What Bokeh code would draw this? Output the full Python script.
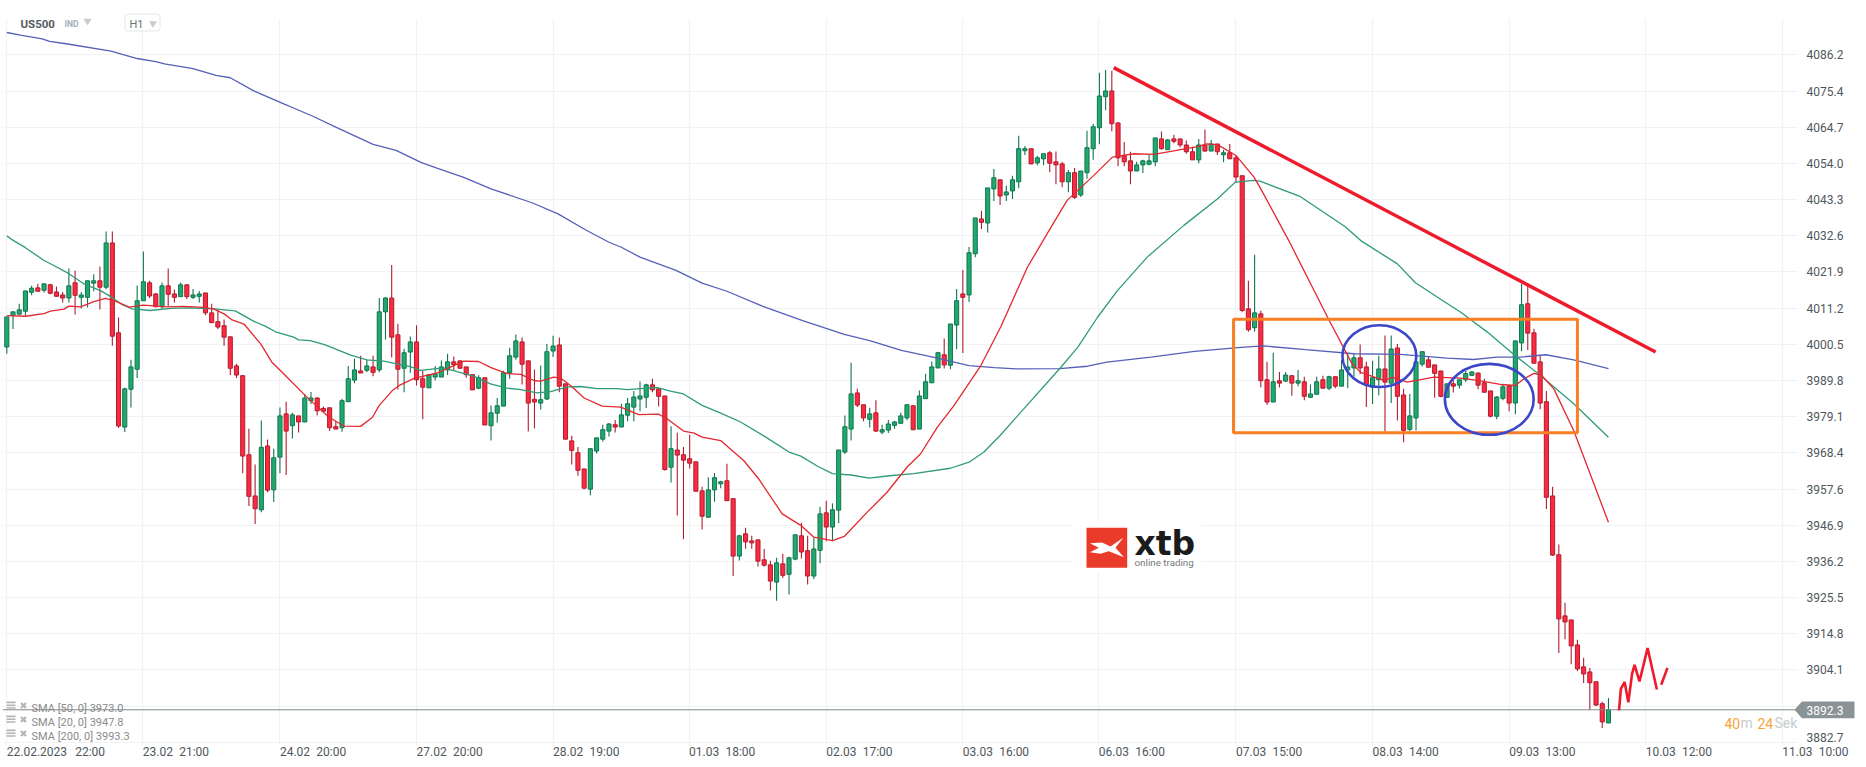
from bokeh.plotting import figure
from bokeh.models import (ColumnDataSource, Range1d, FixedTicker, Label,
                          PolyAnnotation, BoxAnnotation, NumeralTickFormatter)
from bokeh.embed import file_html
from bokeh.resources import INLINE

opens = [3999.7,4009.1,4009.4,4010.3,4015.9,4017.2,4016.5,4018.1,4016.0,4015.1,
4014.2,4018.7,4014.4,4014.4,4018.6,4019.3,4017.4,4030.5,4003.9,3976.0,
3987.2,3993.1,4013.4,4018.7,4015.4,4011.6,4017.8,4015.4,4014.6,4018.1,
4014.4,4014.7,4015.7,4009.8,4007.2,4006.0,4002.7,3994.1,3991.2,3967.8,
3955.6,3951.5,3970.4,3957.4,3967.1,3979.9,3976.4,3979.3,3977.5,3983.8,
3984.6,3981.5,3981.7,3976.1,3975.8,3983.5,3989.9,3992.6,3992.8,3993.8,
3992.9,4010.1,4014.2,4003.3,3993.4,3998.2,4001.2,3990.3,3987.6,3990.8,
3990.8,3992.9,3995.3,3995.6,3993.8,3991.5,3987.5,3990.6,3976.4,3980.1,
3982.2,3992.0,3996.7,4001.2,3995.6,3984.2,3983.1,3984.3,3998.5,4000.3,
3988.8,3971.9,3968.4,3963.6,3957.6,3968.9,3972.4,3974.8,3976.7,3976.0,
3979.5,3981.9,3984.3,3984.8,3988.5,3987.3,3985.2,3964.1,3969.2,3967.8,
3966.6,3965.7,3957.1,3949.3,3957.4,3959.2,3960.1,3954.8,3937.8,3944.4,
3942.3,3942.6,3936.7,3935.2,3930.1,3935.5,3932.4,3936.9,3943.8,3939.4,
3931.9,3939.5,3950.6,3946.4,3951.4,3968.6,3975.4,3986.1,3982.6,3978.3,
3980.2,3974.5,3975.1,3976.5,3977.1,3978.7,3982.3,3975.4,3984.4,3989.1,
3993.5,3997.4,3994.3,4006.2,4015.4,4015.1,4027.3,4037.6,4036.4,4046.5,
4049.2,4044.7,4045.9,4048.6,4057.8,4058.4,4054.2,4055.4,4057.2,4054.5,
4053.9,4048.6,4051.3,4044.7,4051.3,4058.4,4064.6,4073.8,4075.5,4066.0,
4056.3,4054.8,4051.8,4053.6,4053.8,4054.5,4061.3,4058.1,4061.3,4061.3,
4059.5,4057.5,4055.1,4059.5,4057.7,4059.8,4056.6,4057.2,4055.7,4050.4,
4011.0,4005.4,4009.5,3990.0,3983.4,3989.7,3989.6,3991.2,3989.0,3989.4,
3984.8,3985.7,3990.0,3987.5,3990.9,3988.1,3992.9,3993.5,3996.5,3993.8,
3987.8,3990.0,3993.2,3989.0,3999.4,3985.5,3975.3,3978.7,3994.6,3995.9,
3994.4,3992.6,3984.8,3988.8,3988.4,3990.0,3991.3,3992.0,3989.1,3986.7,
3979.2,3984.5,3988.2,3983.1,4000.9,4012.5,4003.9,3995.3,3983.5,3955.6,
3938.2,3920.1,3918.9,3911.5,3905.0,3903.5,3900.6,3894.1,3888.4]

highs = [4008.6,4010.1,4012.5,4016.3,4017.8,4018.4,4018.4,4018.4,4017.6,4016.0,
4022.9,4022.3,4016.0,4019.3,4021.2,4023.5,4033.9,4033.9,4008.4,3987.6,
3995.9,4017.9,4028.0,4019.3,4015.7,4018.8,4022.9,4016.7,4018.8,4018.1,
4016.9,4016.3,4015.7,4012.5,4010.7,4007.8,4002.7,3994.7,3991.4,3975.5,
3964.9,3977.9,3972.3,3969.6,3981.8,3983.5,3980.2,3979.3,3985.8,3986.4,
3984.8,3982.1,3981.7,3977.8,3984.4,3994.1,3996.2,3997.1,3995.9,3997.1,
4014.2,4014.5,4024.0,4006.6,3999.2,4002.8,4006.1,3992.7,3991.5,3994.1,
3995.7,3997.7,3996.9,3995.6,3993.8,3991.5,3991.3,3990.6,3982.4,3984.6,
3992.7,3999.5,4003.4,4002.5,3995.6,3993.0,3994.2,4000.6,4003.0,4002.5,
3988.8,3973.4,3970.1,3963.6,3969.6,3972.8,3976.7,3977.2,3978.1,3982.9,
3984.6,3986.7,3989.5,3988.8,3990.3,3987.3,3985.2,3976.2,3974.3,3970.1,
3973.7,3965.7,3958.3,3961.1,3962.4,3960.1,3965.1,3954.8,3944.1,3946.2,
3943.8,3942.6,3939.9,3936.4,3937.3,3938.5,3937.6,3944.1,3947.7,3943.8,
3943.2,3952.4,3954.2,3953.4,3969.2,3979.4,3995.0,3987.3,3982.6,3981.7,
3983.9,3976.7,3978.1,3977.8,3980.2,3982.6,3982.3,3986.8,3991.8,3995.4,
3998.3,4002.2,4006.5,4016.9,4022.5,4029.3,4037.9,4040.0,4046.8,4052.4,
4049.2,4047.4,4050.4,4062.2,4059.2,4058.4,4056.3,4056.9,4057.7,4057.6,
4054.5,4052.1,4052.7,4051.8,4063.7,4065.8,4080.9,4081.7,4081.5,4066.3,
4060.4,4057.5,4054.5,4055.1,4056.6,4061.6,4063.5,4061.3,4062.5,4061.3,
4060.8,4059.0,4061.3,4064.1,4061.0,4059.8,4058.1,4059.8,4056.3,4050.4,
4019.3,4027.0,4010.4,3995.3,3998.0,3992.3,3992.3,3991.2,3992.9,3990.9,
3988.6,3990.9,3991.2,3991.2,3990.9,3995.9,3997.7,3997.7,4000.4,3995.3,
3995.6,3997.1,4003.1,4003.1,4000.6,3987.3,3985.8,3997.0,3998.3,3996.8,
3994.4,3992.6,3988.8,3990.0,3990.0,3992.6,3992.6,3992.0,3990.3,3986.7,
3985.2,3988.8,3988.2,4001.6,4018.4,4018.4,4005.1,3997.4,3986.7,3958.3,
3941.2,3924.0,3918.9,3913.0,3907.7,3904.7,3900.6,3894.7,3895.8]

lows = [3997.7,4005.0,4009.4,4009.0,4015.0,4016.2,4015.8,4015.3,4014.7,4012.9,
4012.9,4009.3,4011.1,4011.4,4016.2,4010.8,4016.8,4000.1,3975.7,3974.5,
3981.8,3990.5,4013.4,4014.2,4011.6,4011.0,4011.8,4012.9,4014.6,4013.9,
4013.9,4012.9,4009.1,4006.9,4005.0,4000.1,3991.3,3990.5,3962.3,3952.6,
3947.3,3950.8,3956.7,3953.8,3962.3,3961.8,3972.6,3974.4,3977.5,3982.8,
3979.4,3980.5,3974.8,3975.4,3974.6,3983.4,3989.0,3992.0,3992.2,3991.0,
3992.2,4001.9,3996.6,3987.1,3986.3,3992.1,3988.3,3978.3,3987.6,3989.8,
3990.8,3991.4,3992.7,3993.4,3990.6,3987.0,3987.2,3976.6,3972.0,3977.3,
3982.2,3990.3,3995.9,3988.6,3974.7,3975.6,3981.2,3984.0,3996.7,3986.3,
3972.4,3964.9,3961.6,3957.6,3955.8,3968.2,3971.7,3973.2,3974.4,3976.0,
3977.7,3977.7,3980.7,3981.6,3986.3,3982.1,3963.1,3959.6,3949.8,3942.8,
3963.7,3957.0,3945.7,3949.1,3953.9,3957.9,3954.2,3931.9,3936.5,3940.0,
3940.0,3934.7,3934.7,3927.6,3924.6,3931.3,3926.4,3936.6,3937.1,3929.4,
3931.0,3935.7,3942.2,3942.2,3947.5,3968.0,3972.0,3981.9,3977.7,3975.9,
3974.5,3973.9,3974.2,3975.5,3977.1,3978.0,3975.2,3975.4,3984.4,3989.1,
3993.5,3993.3,3993.1,3999.0,3997.9,4013.0,4026.3,4034.6,4033.6,4042.9,
4041.7,4042.9,4043.5,4046.7,4056.5,4053.9,4053.5,4053.5,4051.4,4047.9,
4047.0,4045.5,4043.5,4044.1,4049.5,4055.1,4059.7,4069.8,4063.6,4053.2,
4053.2,4047.9,4051.8,4051.2,4053.5,4053.2,4058.1,4058.1,4060.0,4058.8,
4056.9,4055.1,4054.1,4057.5,4057.7,4056.5,4054.4,4055.4,4048.3,4010.0,
4004.2,4004.2,3987.8,3982.5,3983.4,3987.7,3989.3,3985.3,3988.1,3983.9,
3984.8,3985.7,3987.5,3986.9,3987.5,3988.1,3987.5,3990.9,3991.7,3981.9,
3982.8,3985.4,3974.7,3983.1,3977.9,3971.5,3974.7,3975.0,3993.9,3993.7,
3984.7,3984.8,3984.8,3986.2,3987.4,3989.3,3991.3,3987.2,3986.3,3978.9,
3978.3,3983.9,3980.7,3979.8,3998.5,3998.8,3994.9,3981.3,3951.7,3937.8,
3909.1,3913.2,3905.8,3903.7,3900.2,3892.3,3893.4,3886.9,3888.4]

closes = [4008.6,4010.1,4010.7,4016.3,4017.1,4016.2,4018.4,4015.6,4014.7,4014.2,
4017.8,4015.0,4015.1,4019.3,4019.3,4017.4,4030.5,4002.9,3976.3,3987.3,
3993.8,4013.4,4019.0,4014.8,4011.6,4017.8,4015.3,4014.4,4018.1,4014.6,
4015.1,4015.4,4009.8,4006.9,4005.6,4002.6,3993.4,3991.4,3967.4,3955.5,
3951.8,3970.0,3957.3,3966.9,3979.3,3974.8,3979.6,3977.5,3984.6,3984.6,
3980.8,3980.7,3975.8,3975.4,3983.8,3990.3,3992.9,3992.0,3994.1,3992.2,
4010.1,4014.2,4002.6,3993.1,3998.0,4001.2,3990.0,3987.8,3991.5,3991.8,
3993.8,3995.3,3994.5,3993.4,3991.5,3987.0,3990.6,3976.6,3980.2,3982.3,
3992.1,3997.1,4001.5,3994.6,3983.1,3983.4,3984.1,3998.3,4000.0,3988.1,
3972.4,3969.1,3963.2,3957.9,3969.6,3972.8,3975.2,3976.9,3976.0,3979.6,
3982.9,3984.9,3985.2,3988.5,3987.0,3985.1,3963.4,3969.6,3967.7,3966.2,
3965.3,3957.0,3949.6,3957.4,3961.0,3959.8,3954.2,3937.8,3943.8,3942.0,
3941.7,3936.3,3935.1,3930.4,3935.8,3932.1,3937.3,3944.1,3939.0,3931.9,
3939.9,3950.3,3946.4,3951.5,3969.2,3976.1,3985.8,3982.5,3978.7,3979.9,
3974.8,3975.2,3976.9,3977.5,3979.3,3982.6,3975.2,3985.2,3989.4,3993.8,
3998.0,3994.4,4006.5,4013.4,4014.4,4027.6,4037.9,4036.6,4046.8,4049.8,
4044.4,4045.6,4049.2,4058.4,4058.4,4053.9,4055.7,4056.9,4054.1,4053.6,
4048.6,4051.3,4044.0,4051.8,4058.7,4064.9,4074.0,4075.5,4065.8,4055.7,
4054.5,4051.8,4053.6,4054.8,4054.8,4061.6,4058.4,4061.0,4060.6,4059.5,
4057.5,4055.1,4059.5,4057.7,4059.8,4057.5,4057.2,4055.4,4050.0,4010.5,
4004.8,4009.8,3989.7,3983.4,3989.4,3989.0,3991.4,3989.0,3989.7,3985.1,
3985.8,3989.4,3987.5,3990.9,3988.1,3992.9,3993.8,3996.5,3993.5,3988.5,
3990.6,3993.2,3989.3,3999.1,3985.1,3975.0,3979.3,3995.3,3998.3,3993.7,
3991.9,3985.1,3988.8,3988.1,3990.0,3991.8,3992.3,3988.4,3986.3,3979.2,
3984.9,3987.9,3983.1,4001.5,4012.2,4003.8,3994.9,3983.1,3955.2,3938.1,
3919.2,3918.3,3911.2,3904.4,3902.9,3900.3,3893.7,3888.7,3892.3]

sma200_bar = [0,2.2,5.7,6.9,9.8,16.8,21,24,25.4,30,33.7,36,39.7,44.8,46,49.3,53,59,62.7,66.8,69.4,73.5,78,84.6,88.8,93.2,97,
              98.9,102,107.8,112,116,121.8,128.2,134.9,139,144.1,149.2,155,159.1,162.6,169.6,174.1,177.2,184.3,191.3,
              198.8,202.5,209.2,217,224.5,232,236.3,240,243.8,247.9,252.4,258]
sma200_val = [4092.8,4092.0,4090.9,4090.2,4089.4,4087.3,4085.1,4084.2,4083.5,4082.1,4080.1,4079.4,4075.6,4071.5,4070.6,4068.0,4064.8,4059.7,4057.9,4054.3,4052.6,4050.0,4046.5,4042.4,4039.1,4034.4,4030.7,
              4029.3,4026.3,4022.4,4018.6,4016.2,4011.7,4007.5,4003.4,4001.6,3998.7,3996.7,3994.2,3993.6,3993.2,3993.3,3994.0,3995.2,3996.7,3998.4,
              3999.6,4000.0,3998.9,3997.7,3997.5,3996.4,3996.0,3996.7,3996.7,3997.4,3995.9,3993.3]

sma50_bar = [0,.9,3,6,7.8,10,12.4,15.1,17,18.6,20.2,23.1,26.4,29.6,33.4,36.8,39.8,41.7,43.3,46.2,47,48.9,51.3,53.8,55.4,
             58,60.7,65,66.6,70.4,72.5,75.3,77.9,80.6,82.8,85.4,87.6,90.3,92.4,95.1,98.3,99.9,102,104.8,106.9,109,112,
             115,118.2,122,126,127.9,130.6,133,136,138.9,141.8,146.1,152,155,157.4,160,
             169.8,172.5,175.7,178.9,183.7,189.6,195,197.9,200.9,202,208.4,215.6,218.1,224,226.9,230.9,234.2,238.5,242.8,247.1,252.4,258]
sma50_val = [4032.6,4031.4,4029.1,4025.3,4023.6,4021.4,4018.4,4016.4,4014.3,4012.2,4011.0,4010.5,4011.1,4011.3,4011.0,4010.4,4007.3,4005.8,4004.2,4002.6,4001.8,4001.6,4000.3,3998.5,3997.3,
             3995.9,3995.5,3993.9,3992.8,3993.5,3992.4,3991.0,3988.8,3987.5,3987.1,3986.1,3986.5,3987.9,3988.0,3987.4,3987.4,3987.1,3987.4,3987.7,3986.6,3985.8,3982.4,
             3980.1,3977.5,3973.3,3968.6,3967.4,3964.4,3962.2,3961.8,3960.9,3961.5,3962.2,3963.8,3965.6,3968.6,3973.5,
             3993.7,3999.6,4008.5,4016.4,4026.3,4035.7,4043.5,4048.5,4049.0,4048.7,4044.2,4035.3,4031.2,4024.3,4018.7,4013.9,4010.0,4004.1,3997.4,3991.2,3982.9,3973.0]

sma20_bar = [0,3,6,7,9.2,10,11.9,14,15.9,17.5,19.7,22,25.8,28.5,31.7,33.4,35,36.3,38.2,40.9,42.7,44.6,48.1,51.9,54.3,57,
             58.9,60,62.1,63.4,65.6,69.3,72,73.6,76,78,80.6,82.8,85,86,88.1,89.2,90.8,93,95.9,98.9,101.8,105,106.4,109,110.7,112,
             115,117.1,118.7,121.1,124.9,127.9,130,133,134.9,138.6,141.8,145,147.2,149.9,152.6,156.9,160.1,
             164.4,167.9,170.8,175.1,178.1,181.6,184.8,191.8,193.3,195,198,200.9,202,206.5,212.9,216.7,218.1,221.8,223.2,225.6,229.9,234.2,236.9,240.6,243,244.4,246,247.3,249.2,252.4,258]
sma20_val = [4009.0,4008.8,4009.6,4010.3,4010.9,4011.8,4011.6,4013.1,4014.1,4013.3,4011.5,4012.1,4011.6,4011.7,4011.4,4010.9,4009.5,4007.7,4006.5,4000.6,3995.2,3991.8,3985.3,3978.9,3976.3,3976.2,
             3978.9,3982.4,3986.8,3988.5,3990.4,3992.0,3994.2,3995.5,3995.4,3993.6,3991.8,3991.6,3989.7,3989.6,3990.8,3990.5,3988.3,3984.6,3982.2,3981.9,3979.7,3979.8,3978.4,3974.8,3974.2,3973.0,
             3972.0,3968.6,3966.1,3960.7,3950.3,3946.9,3943.4,3942.4,3943.6,3950.8,3956.7,3964.1,3968.1,3976.0,3982.4,3994.2,4005.6,
             4023.3,4034.2,4043.1,4050.5,4055.9,4056.9,4056.7,4059.0,4059.8,4059.6,4056.4,4050.0,4046.5,4031.2,4008.0,3994.7,3992.2,3989.8,3990.7,3989.3,3990.8,3990.5,3989.8,3988.6,3988.3,3990.3,3991.9,3991.2,3987.3,3975.0,3947.8]

trend_bar = [178.3, 265.6]
trend_val = [4082.4, 3998.2]
squiggle_bar = [259.7,260.0,260.6,261.2,261.8,262.2,263.0,264.3,265.8,266.5,267.5]
squiggle_val = [3892.1,3898.5,3900.5,3894.5,3902.9,3905.6,3900.7,3910.6,3898.3,3899.7,3904.7]
box_bars = (197.6, 253.0)
box_vals = (3974.3, 4007.9)
ring_bar = [221.1, 238.8]
ring_val = [3997.0, 3984.2]
ring_w = [11.9, 14.3]
ring_h = [18.3, 21.0]

grid_bars = [0,21.9,44,66,88,109.9,132,154,175.9,198,220,242,264,286]
x_dates = ["22.02.2023","23.02","24.02","27.02","28.02","01.03","02.03","03.03","06.03","07.03","08.03","09.03","10.03","11.03"]
x_times = ["22:00","21:00","20:00","20:00","19:00","18:00","17:00","16:00","16:00","15:00","14:00","13:00","12:00","10:00"]
y_ticks = [4086.2,4075.4,4064.7,4054.0,4043.3,4032.6,4021.9,4011.2,4000.5,3989.8,3979.1,3968.4,3957.6,3946.9,3936.2,3925.5,3914.8,3904.1,3893.4,3882.7]
last_price = 3892.3
sma_texts = ["SMA [50, 0] 3973.0","SMA [20, 0] 3947.8","SMA [200, 0] 3993.3"]

# pixel helpers for interface furniture placed on the chart
def X(px): return (px - 6.3) / 6.208
def Y(py): return 3882.7 + (741.7 - py) * 0.29604

GRID = "#f1f2f3"
GREEN, GREEN_D = "#21a96d", "#0f7550"
RED, RED_D = "#fb2a3f", "#b01c30"
FONT = "Roboto"
FRAME_L, FRAME_B = 2, 767

p = figure(frame_width=1864, frame_height=767, output_backend="svg", toolbar_location=None,
           x_range=Range1d(X(2), X(1866)), y_range=Range1d(Y(767), Y(0)),
           y_axis_location="right", min_border_left=2, min_border_right=0,
           min_border_top=0, min_border_bottom=0, background_fill_color="white",
           tools="")
p.outline_line_color = None
p.xaxis.visible = False
p.xgrid.ticker = FixedTicker(ticks=grid_bars)
p.ygrid.ticker = FixedTicker(ticks=y_ticks)
for g in (p.xgrid[0], p.ygrid[0]):
    g.grid_line_color = GRID
    g.grid_line_width = 1.2

ax = p.yaxis[0]
ax.ticker = FixedTicker(ticks=[t for t in y_ticks if t not in (3893.4, 3882.7)] + [3884.1])
ax.formatter = NumeralTickFormatter(format="0.0")
ax.major_label_overrides = {3884.1: "3882.7"}
ax.axis_line_color = None
ax.major_tick_line_color = None
ax.minor_tick_line_color = None
ax.major_tick_in = 0
ax.major_tick_out = 0
ax.major_label_standoff = -60
ax.major_label_text_font = FONT
ax.major_label_text_font_size = "12px"
ax.major_label_text_color = "#50575b"

# the grid stops at the chart's own edges: white bands beyond them, and behind the logo
p.quad(left=[X(1797), X(2), X(2), X(1072)], right=[X(1866), X(1866), X(1866), X(1201)],
       top=[Y(0), Y(745), Y(0), Y(520)], bottom=[Y(767), Y(767), Y(18), Y(572)], fill_color="white", line_color=None)

up = [c >= o for o, c in zip(opens, closes)]
src = ColumnDataSource(dict(
    i=list(range(len(opens))), o=opens, h=highs, l=lows, c=closes,
    top=[max(a, b) for a, b in zip(opens, closes)],
    bot=[min(a, b) for a, b in zip(opens, closes)],
    fill=[GREEN if u else RED for u in up],
    edge=[GREEN_D if u else RED_D for u in up],
))
p.segment("i", "h", "i", "l", source=src, line_color="edge", line_width=1.1)
p.vbar("i", 0.66, "top", "bot", source=src, fill_color="fill", line_color="edge", line_width=1)

p.line(sma200_bar, sma200_val, line_color="#5560b8", line_width=1.3)
p.line(sma50_bar, sma50_val, line_color="#2f9b78", line_width=1.3)
p.line(sma20_bar, sma20_val, line_color="#e3282f", line_width=1.3)

p.segment([X(2)], [last_price], [X(1795)], [last_price], line_color="#7e8a8b", line_width=1)

p.quad(left=[box_bars[0]], right=[box_bars[1]], bottom=[box_vals[0]], top=[box_vals[1]],
       fill_color=None, line_color="#fb7f24", line_width=3)
p.ellipse(ring_bar, ring_val, width=ring_w, height=ring_h, fill_color=None, line_color="#3c46c9", line_width=2.6)
p.line(trend_bar, trend_val, line_color="#ee1b2d", line_width=3.4)
p.line(squiggle_bar[:9], squiggle_val[:9], line_color="#ee1b2d", line_width=2.6)
p.line(squiggle_bar[9:], squiggle_val[9:], line_color="#ee1b2d", line_width=2.6)

def text(px, py, s, size, color, weight="normal", align="left", font=FONT, level="overlay"):
    p.add_layout(Label(x=px - FRAME_L, y=FRAME_B - py, x_units="screen", y_units="screen", text=s, text_font=font,
                       text_font_size=f"{size}px", text_color=color,
                       text_font_style=weight, text_align=align, text_baseline="middle", level=level))

# x axis labels: the date sits on its grid line, the time follows after a wide gap
for b, d, t in zip(grid_bars, x_dates, x_times):
    px = 6.3 + 6.208 * b
    text(px, 751, d, 12, "#50575b")
    text(px + (68.4 if len(d) > 5 else 36.4), 751, t, 12, "#50575b")

# header
text(20, 23, "US500", 11.5, "#545c60", "bold")
text(64, 23.5, "IND", 8.5, "#9fb0b6", "bold")
p.scatter([X(87)], [Y(20.5)], marker="inverted_triangle", size=8, fill_color="#c9cccd", line_color=None)
p.add_layout(BoxAnnotation(left=X(124.5), right=X(159.5), top=Y(13.5), bottom=Y(30.5), fill_color="white", fill_alpha=1,
                           line_color="#e3e6e8", line_alpha=1, line_width=1, border_radius=3))
text(129, 23.5, "H1", 11, "#6b7478")
p.scatter([X(152.5)], [Y(23)], marker="inverted_triangle", size=8, fill_color="#c9cccd", line_color=None, level="overlay")

# indicator legend
for k, s in enumerate(sma_texts):
    yy = 707.5 + 14 * k
    p.quad(left=[X(6)] * 3, right=[X(15)] * 3,
           top=[Y(yy - 6.5), Y(yy - 3.5), Y(yy - 0.7)], bottom=[Y(yy - 4.7), Y(yy - 2), Y(yy + 0.7)],
           fill_color="#b4b4b4", line_color=None)
    p.scatter([X(23)], [Y(yy - 2.5)], marker="x", size=7, line_color="#b4b4b4", line_width=2.2)
    text(31, yy + 0.3, s, 11, "#8b8b8b")

# last price tag
tag_px = [1794, 1801.5, 1854, 1854, 1801.5]
tag_py = [709.3, 701, 701, 717.7, 717.7]
p.add_layout(PolyAnnotation(xs=[X(a) for a in tag_px], ys=[Y(b) for b in tag_py],
                            fill_color="#8a9497", fill_alpha=1, line_color=None, level="overlay"))
text(1806, 709.6, f"{last_price:.1f}", 12, "white")

# bar countdown
text(1724, 722.5, "40", 14, "#f7a23b")
text(1740, 722.5, "m", 14, "#c6ccce")
text(1757, 722.5, "24", 14, "#f7a23b")
text(1774, 722.5, "Sek", 14, "#c6ccce")

# logo
p.quad(left=[X(1086)], right=[X(1126.7)], top=[Y(527.3)], bottom=[Y(567.3)], fill_color="#ea3b2a", line_color=None)
mark_x = [1089.5,1101.5,1110,1122.7,1115,1123.4,1108.3,1100,1089.5,1098.3]
mark_y = [542.7,542,546,537.3,547.3,556.7,550.7,553.3,551.7,547.3]
p.patch([X(a) for a in mark_x], [Y(b) for b in mark_y], fill_color="white", line_color=None)
text(1134, 543, "xtb", 33, "#1b1b1b", "bold", font="DejaVu Sans")
text(1134, 561.5, "online trading", 9.8, "#77797b")

open("out.html", "w").write(file_html(p, INLINE))
